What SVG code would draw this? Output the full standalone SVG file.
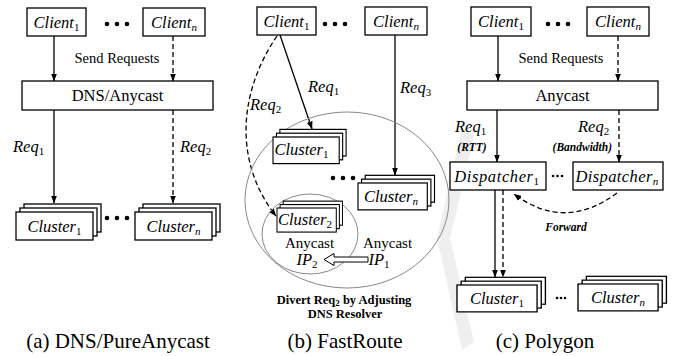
<svg xmlns="http://www.w3.org/2000/svg" width="678" height="356" viewBox="0 0 678 356">
<defs>
<marker id="ah" markerUnits="userSpaceOnUse" markerWidth="8" markerHeight="8" viewBox="0 0 8 8" refX="7.5" refY="4" orient="auto">
<path d="M0,1 L8,4 L0,7 Z" fill="#000"/>
</marker>
<g id="stk">
<rect x="8" y="-8" width="77" height="28"/>
<rect x="4" y="-4" width="77" height="28"/>
<rect x="0" y="0" width="77" height="28"/>
</g>
</defs>
<style>
rect{fill:#fff;stroke:#000;stroke-width:1.3}
.ln{stroke:#000;stroke-width:1.3;fill:none}
.ar{marker-end:url(#ah)}
.da{stroke-dasharray:5 3}
.m{font-family:"Liberation Serif","Times New Roman",serif;font-style:italic;font-size:16.5px;fill:#000}
.sb{font-style:normal;font-size:11px}
.si{font-size:11px}
.t{font-family:"Liberation Serif","Times New Roman",serif;fill:#000}
.cap{font-family:"Liberation Serif","Times New Roman",serif;font-size:21px;fill:#000}
.bi{font-family:"Liberation Serif","Times New Roman",serif;font-weight:bold;font-style:italic;font-size:11.5px;fill:#000}
.b{font-family:"Liberation Serif","Times New Roman",serif;font-weight:bold;font-size:12.5px;fill:#000}
.gc{fill:none;stroke:#888;stroke-width:1}
</style>

<!-- faint background watermark -->
<polygon points="462,128 474,136 450,238 474,342 462,350 437,238" fill="#efefef"/>

<!-- connectors -->
<g id="connectors">
<line class="ln ar" x1="54" y1="36" x2="54" y2="81"/>
<line class="ln ar da" x1="173" y1="36" x2="173" y2="81"/>
<line class="ln ar" x1="54" y1="110" x2="54" y2="203"/>
<line class="ln ar da" x1="173" y1="110" x2="173" y2="203"/>

<line class="ln ar" x1="280" y1="35" x2="312" y2="129"/>
<line class="ln ar" x1="395" y1="35" x2="395" y2="175"/>
<path class="ln ar da" d="M277,36 C240,90 232,160 276,216"/>

<line class="ln ar" x1="498" y1="36" x2="498" y2="81"/>
<line class="ln ar da" x1="618" y1="36" x2="618" y2="81"/>
<line class="ln ar" x1="497" y1="110" x2="497" y2="162"/>
<line class="ln ar da" x1="619" y1="110" x2="619" y2="162"/>
<line class="ln ar" x1="495" y1="190" x2="495" y2="277"/>
<line class="ln ar da" x1="503" y1="190" x2="503" y2="277"/>
<path class="ln ar da" d="M617,193 Q565,232 514,194"/>
</g>

<!-- panel a -->
<g id="a-client1"><rect x="27" y="8" width="59" height="28"/><text class="m" x="56.5" y="28" text-anchor="middle">Client<tspan class="sb" dy="3">1</tspan></text></g>
<g id="a-dots"><circle cx="107" cy="24" r="2.3"/><circle cx="117" cy="24" r="2.3"/><circle cx="127" cy="24" r="2.3"/></g>
<g id="a-clientn"><rect x="143" y="8" width="62" height="28"/><text class="m" x="174" y="28" text-anchor="middle">Client<tspan class="si" dy="3">n</tspan></text></g>
<text class="t" x="117" y="63" font-size="14.5" text-anchor="middle">Send Requests</text>
<g id="a-dns"><rect x="22" y="81" width="191" height="29"/><text class="t" x="117.5" y="101" font-size="16.5" text-anchor="middle">DNS/Anycast</text></g>
<text class="m" x="13" y="152">Req<tspan class="sb" dy="3">1</tspan></text>
<text class="m" x="180" y="152">Req<tspan class="sb" dy="3">2</tspan></text>
<g id="a-cluster1"><use href="#stk" x="16" y="212"/><text class="m" x="54.5" y="232" text-anchor="middle">Cluster<tspan class="sb" dy="3">1</tspan></text></g>
<g id="a-dots2"><circle cx="107" cy="218" r="2.3"/><circle cx="117" cy="218" r="2.3"/><circle cx="127" cy="218" r="2.3"/></g>
<g id="a-clustern"><use href="#stk" x="135" y="212"/><text class="m" x="173.5" y="232" text-anchor="middle">Cluster<tspan class="si" dy="3">n</tspan></text></g>
<text class="cap" x="118" y="348" text-anchor="middle">(a) DNS/PureAnycast</text>

<!-- panel b -->
<ellipse class="gc" cx="347" cy="200" rx="102" ry="88"/>
<ellipse class="gc" cx="310" cy="234" rx="48" ry="40"/>
<g id="b-client1"><rect x="257" y="7" width="59" height="28"/><text class="m" x="286.5" y="27" text-anchor="middle">Client<tspan class="sb" dy="3">1</tspan></text></g>
<g id="b-dots"><circle cx="325" cy="24" r="2.3"/><circle cx="335" cy="24" r="2.3"/><circle cx="345" cy="24" r="2.3"/></g>
<g id="b-clientn"><rect x="365" y="7" width="62" height="28"/><text class="m" x="396" y="27" text-anchor="middle">Client<tspan class="si" dy="3">n</tspan></text></g>
<text class="m" x="308" y="92">Req<tspan class="sb" dy="3">1</tspan></text>
<text class="m" x="250" y="110">Req<tspan class="sb" dy="3">2</tspan></text>
<text class="m" x="400" y="93">Req<tspan class="sb" dy="3">3</tspan></text>
<g id="b-cluster1"><g transform="translate(273,137) scale(0.86,0.95)"><use href="#stk"/></g><text class="m" x="301.5" y="155" text-anchor="middle">Cluster<tspan class="sb" dy="3">1</tspan></text></g>
<g id="b-dots2"><circle cx="333" cy="178" r="2.3"/><circle cx="343" cy="178" r="2.3"/><circle cx="353" cy="178" r="2.3"/></g>
<g id="b-clustern"><g transform="translate(358,183) scale(0.9,0.96)"><use href="#stk"/></g><text class="m" x="391" y="202" text-anchor="middle">Cluster<tspan class="si" dy="3">n</tspan></text></g>
<g id="b-cluster2"><g transform="translate(277,208) scale(0.77,0.86)"><use href="#stk"/></g><text class="m" x="305" y="225" text-anchor="middle" font-size="15">Cluster<tspan class="sb" dy="3">2</tspan></text></g>
<text class="t" x="309.5" y="248" font-size="15" text-anchor="middle">Anycast</text>
<text class="m" x="307" y="265" text-anchor="middle" font-size="15.5">IP<tspan class="sb" dy="3">2</tspan></text>
<text class="t" x="387.5" y="248" font-size="15" text-anchor="middle">Anycast</text>
<text class="m" x="379" y="265" text-anchor="middle" font-size="15.5">IP<tspan class="sb" dy="3">1</tspan></text>
<polygon points="324,259.5 334,253.5 334,257 368,257 368,262 334,262 334,265.5" fill="#fff" stroke="#000" stroke-width="1"/>
<text class="b" x="344" y="304" text-anchor="middle">Divert Req<tspan font-size="9" dy="2">2</tspan><tspan dy="-2"> by Adjusting</tspan></text>
<text class="b" x="345" y="318" text-anchor="middle">DNS Resolver</text>
<text class="cap" x="345" y="348" text-anchor="middle">(b) FastRoute</text>

<!-- panel c -->
<g id="c-client1"><rect x="471" y="7" width="60" height="29"/><text class="m" x="501" y="27" text-anchor="middle">Client<tspan class="sb" dy="3">1</tspan></text></g>
<g id="c-dots"><circle cx="548" cy="24" r="2.3"/><circle cx="558" cy="24" r="2.3"/><circle cx="568" cy="24" r="2.3"/></g>
<g id="c-clientn"><rect x="587" y="7" width="62" height="29"/><text class="m" x="618" y="27" text-anchor="middle">Client<tspan class="si" dy="3">n</tspan></text></g>
<text class="t" x="561" y="63" font-size="14.5" text-anchor="middle">Send Requests</text>
<g id="c-anycast"><rect x="467" y="81" width="191" height="29"/><text class="t" x="562.5" y="101" font-size="16.5" text-anchor="middle">Anycast</text></g>
<text class="m" x="455" y="132">Req<tspan class="sb" dy="3">1</tspan></text>
<text class="bi" x="472" y="151" text-anchor="middle">(RTT)</text>
<text class="m" x="578" y="132">Req<tspan class="sb" dy="3">2</tspan></text>
<text class="bi" x="612" y="151" text-anchor="end">(Bandwidth)</text>
<g id="c-disp1"><rect x="450" y="162" width="96" height="28"/><text class="m" x="497" y="182" text-anchor="middle" letter-spacing="0.6">Dispatcher<tspan class="sb" dy="3">1</tspan></text></g>
<g id="c-dots1"><circle cx="553" cy="176" r="1.3"/><circle cx="557.5" cy="176" r="1.3"/><circle cx="562" cy="176" r="1.3"/></g>
<g id="c-dispn"><rect x="573" y="162" width="90" height="28"/><text class="m" x="617" y="182" text-anchor="middle" letter-spacing="0.4">Dispatcher<tspan class="si" dy="3">n</tspan></text></g>
<text class="bi" x="566" y="231" text-anchor="middle" font-size="12">Forward</text>
<g id="c-cluster1"><g transform="translate(457,285) scale(1.04,0.96)"><use href="#stk"/></g><text class="m" x="497" y="304" text-anchor="middle">Cluster<tspan class="sb" dy="3">1</tspan></text></g>
<g id="c-dots2"><circle cx="557" cy="298" r="1.3"/><circle cx="561" cy="298" r="1.3"/><circle cx="565" cy="298" r="1.3"/></g>
<g id="c-clustern"><g transform="translate(578,284) scale(1.04,0.96)"><use href="#stk"/></g><text class="m" x="618" y="303" text-anchor="middle">Cluster<tspan class="si" dy="3">n</tspan></text></g>
<text class="cap" x="545" y="348" text-anchor="middle">(c) Polygon</text>
</svg>
